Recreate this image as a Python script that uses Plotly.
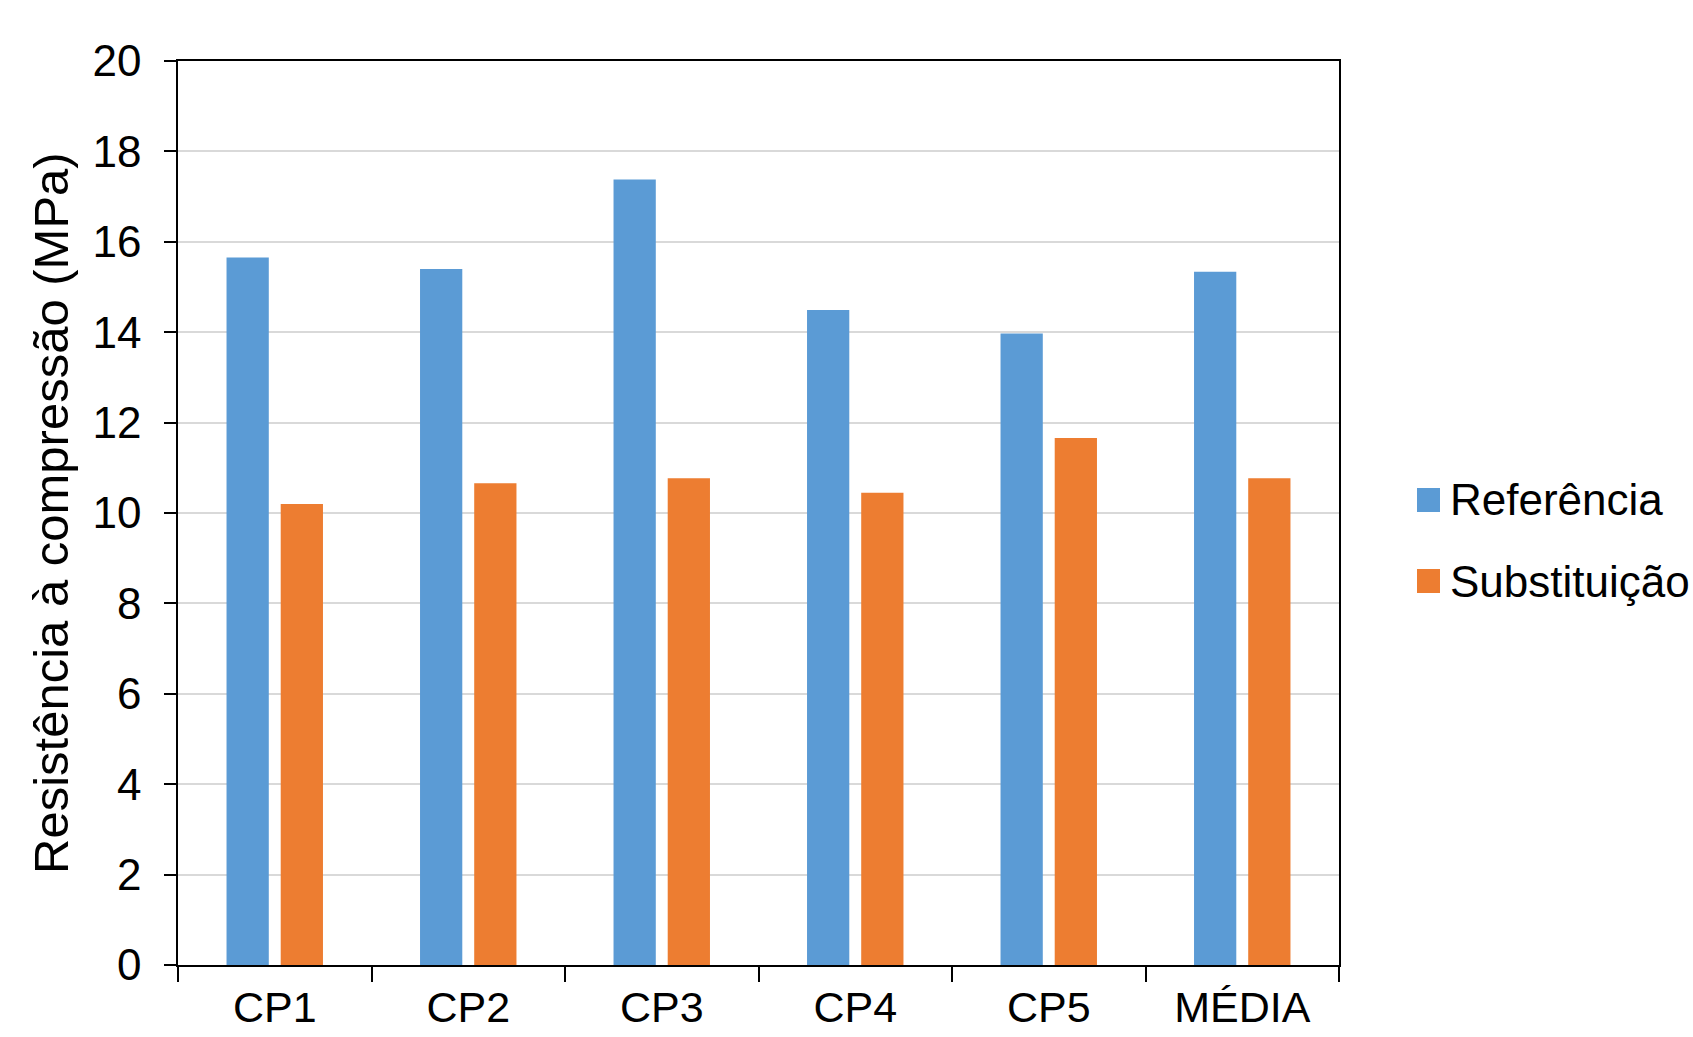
import plotly.graph_objects as go

# Compressive strength of specimens (MPa)
categorias = ["CP1", "CP2", "CP3", "CP4", "CP5", "MÉDIA"]
referencia = [15.65, 15.40, 17.38, 14.49, 13.97, 15.34]
substituicao = [10.20, 10.66, 10.77, 10.45, 11.66, 10.77]
y_ticks = [0, 2, 4, 6, 8, 10, 12, 14, 16, 18, 20]

AZUL = "#5B9BD5"
LARANJA = "#ED7D31"
FONTE = "Liberation Sans, Arial, sans-serif"

W, H = 1693, 1037
L, R, T, B = 178, 1339, 61, 965  # plot area in pixels

fig = go.Figure()
fig.add_trace(go.Bar(x=categorias, y=referencia, name="Referência",
                     marker=dict(color=AZUL, line=dict(width=0))))
fig.add_trace(go.Bar(x=categorias, y=substituicao, name="Substituição",
                     marker=dict(color=LARANJA, line=dict(width=0))))


def px_x(px):
    return (px - L) / (R - L)


def px_y(py):
    return (B - py) / (B - T)


# Legend drawn as swatches with labels
legend_items = [("Referência", AZUL, 500), ("Substituição", LARANJA, 581)]
shapes = []
annotations = []
for label, color, cy in legend_items:
    shapes.append(dict(type="rect", xref="paper", yref="paper",
                       x0=px_x(1417), x1=px_x(1440),
                       y0=px_y(cy + 12), y1=px_y(cy - 12),
                       fillcolor=color, line=dict(width=0)))
    annotations.append(dict(text=label, xref="paper", yref="paper",
                            x=px_x(1448), y=px_y(cy), xanchor="left",
                            yanchor="middle", showarrow=False,
                            font=dict(family=FONTE, size=44, color="#000000")))

annotations.append(dict(text="Resistência à compressão (MPa)", xref="paper",
                        yref="paper", x=px_x(51), y=px_y(513), textangle=-90,
                        xanchor="center", yanchor="middle", showarrow=False,
                        font=dict(family=FONTE, size=49, color="#000000")))

fig.update_layout(
    width=W, height=H,
    margin=dict(l=L, r=W - R, t=T, b=H - B, pad=0, autoexpand=False),
    paper_bgcolor="white", plot_bgcolor="white",
    barmode="group", bargap=0.44, bargroupgap=0.22,
    showlegend=False,
    font=dict(family=FONTE, size=44, color="#000000"),
    shapes=shapes, annotations=annotations,
)
fig.update_xaxes(
    automargin=False,
    tickson="boundaries", ticks="outside", ticklen=15, tickwidth=1.5,
    tickcolor="#000000", showline=True, linecolor="#000000", linewidth=1.5,
    mirror=True, showgrid=False, ticklabelstandoff=4,
    tickfont=dict(family=FONTE, size=43, color="#000000"),
)
fig.update_yaxes(
    automargin=False,
    range=[0, 20], tickvals=y_ticks, ticks="outside", ticklen=12,
    tickwidth=1.5, tickcolor="#000000", showline=True, linecolor="#000000",
    linewidth=1.5, mirror=True, showgrid=True, gridcolor="#D9D9D9",
    gridwidth=1.5, zeroline=False, ticklabelstandoff=14,
    tickfont=dict(family=FONTE, size=44, color="#000000"),
)

fig.write_html("out.html")
